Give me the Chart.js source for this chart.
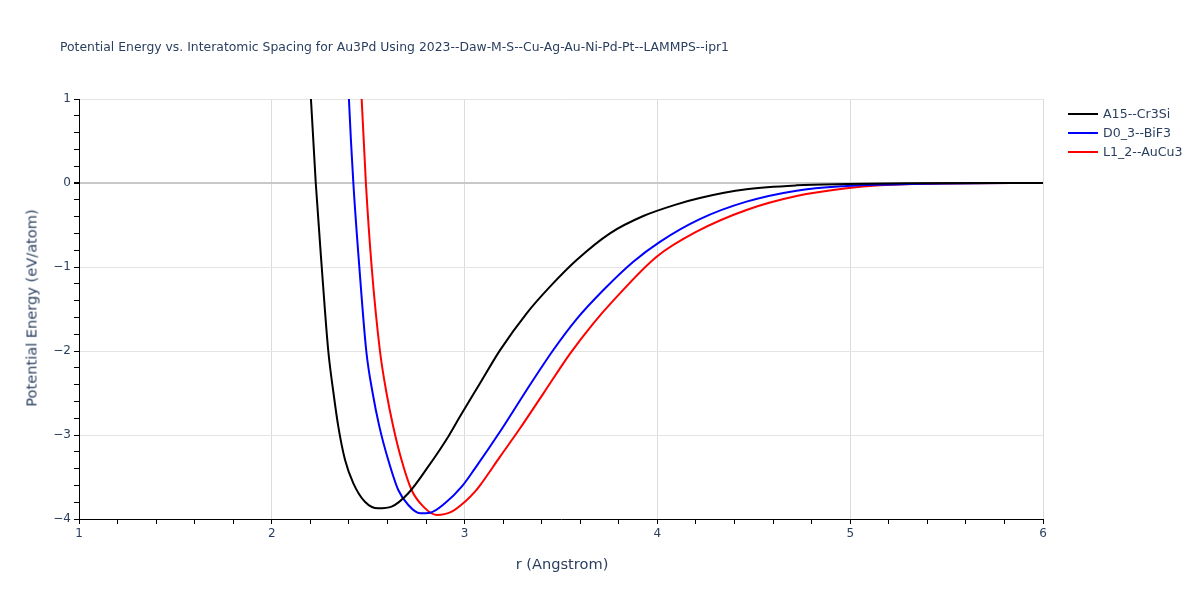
<!DOCTYPE html>
<html>
<head>
<meta charset="utf-8">
<script src="https://cdn.jsdelivr.net/npm/chart.js@4.4.1/dist/chart.umd.min.js"></script>
<style>
  body { margin: 0; background: #fff; }
  #wrap { position: relative; width: 1200px; height: 600px; font-family: "DejaVu Sans", Verdana, sans-serif; color: #2a3f5f; }
  #chart { position: absolute; left: 0; top: 0; }
  .title { position: absolute; left: 60px; top: 46px; font-size: 12.4px; white-space: nowrap; transform: translateY(-50%); }
  .ytitle { position: absolute; left: 31px; top: 308px; font-size: 14.6px; white-space: nowrap; transform: translate(-50%, -50%) rotate(-90deg); }
  .xtitle { position: absolute; left: 562px; top: 563px; font-size: 14.6px; white-space: nowrap; transform: translate(-50%, -50%); }
  .legend { position: absolute; left: 1068px; top: 104px; font-size: 12.6px; }
  .legend div { height: 19px; display: flex; align-items: center; white-space: nowrap; }
  .legend span.swatch { display: inline-block; width: 30px; height: 2px; margin-right: 5px; }
</style>
</head>
<body>
<div id="wrap">
  <canvas id="chart" width="1200" height="600"></canvas>
  <div class="title">Potential Energy vs. Interatomic Spacing for Au3Pd Using 2023--Daw-M-S--Cu-Ag-Au-Ni-Pd-Pt--LAMMPS--ipr1</div>
  <div class="ytitle">Potential Energy (eV/atom)</div>
  <div class="xtitle">r (Angstrom)</div>
  <div class="legend" id="legend"></div>
</div>
<script>
// series names and colours
const seriesNames = ["A15--Cr3Si", "D0_3--BiF3", "L1_2--AuCu3"];
const seriesColors = ["#000000", "#0000ff", "#ff0000"];

// A15--Cr3Si
const rA15 = [2.19, 2.203, 2.228, 2.259, 2.293, 2.32, 2.345, 2.38, 2.423, 2.483, 2.552, 2.621, 2.708, 2.811, 2.915, 2.976, 3.08, 3.184, 3.322, 3.443, 3.581, 3.754, 3.927, 4.1, 4.22, 4.462, 4.722, 4.981, 5.3, 6.0];
const eA15 = [1.6, 1.0, 0.0, -1.0, -2.0, -2.5, -2.901, -3.298, -3.575, -3.794, -3.873, -3.853, -3.694, -3.377, -3.02, -2.78, -2.385, -1.99, -1.551, -1.234, -0.917, -0.599, -0.393, -0.254, -0.178, -0.075, -0.028, -0.012, -0.003, 0.0];

// D0_3--BiF3
const rD03 = [2.39, 2.4, 2.423, 2.454, 2.49, 2.523, 2.558, 2.604, 2.656, 2.708, 2.769, 2.821, 2.898, 2.985, 3.054, 3.192, 3.322, 3.46, 3.581, 3.72, 3.875, 4.013, 4.22, 4.462, 4.722, 4.981, 5.155, 5.5, 6.0];
const eD03 = [1.6, 1.0, 0.0, -1.0, -2.0, -2.5, -2.9, -3.298, -3.655, -3.833, -3.932, -3.925, -3.813, -3.615, -3.397, -2.932, -2.464, -1.988, -1.62, -1.274, -0.937, -0.7, -0.43, -0.222, -0.091, -0.036, -0.02, -0.005, 0.0];

// L1_2--AuCu3
const rL12 = [2.455, 2.466, 2.488, 2.518, 2.561, 2.595, 2.63, 2.673, 2.725, 2.786, 2.855, 2.933, 3.002, 3.054, 3.08, 3.184, 3.284, 3.409, 3.548, 3.668, 3.771, 3.996, 4.203, 4.462, 4.722, 4.981, 5.155, 5.5, 6.0];
const eL12 = [1.6, 1.0, 0.0, -1.0, -2.0, -2.5, -2.901, -3.298, -3.655, -3.853, -3.952, -3.913, -3.794, -3.675, -3.6, -3.258, -2.932, -2.504, -2.028, -1.67, -1.4, -0.877, -0.579, -0.321, -0.155, -0.063, -0.028, -0.006, 0.0];

// axis ranges / ticks
const xRange = [1, 6];
const yRange = [-4, 1];
const minorStep = 0.2;

const seriesR = [rA15, rD03, rL12];
const seriesE = [eA15, eD03, eL12];

const tickFont = { family: '"DejaVu Sans", Verdana, sans-serif', size: 12 };
const tickColor = "#2a3f5f";

function isMajor(v) {
  return Math.abs(v - Math.round(v)) < 1e-6;
}

function fmt(v) {
  const n = Math.round(v);
  return n < 0 ? "\u2212" + Math.abs(n) : String(n);
}

const datasets = seriesNames.map((name, i) => ({
  label: name,
  data: seriesR[i].map((r, j) => ({ x: r, y: seriesE[i][j] })),
  borderColor: seriesColors[i],
  backgroundColor: seriesColors[i],
  borderWidth: 2,
  pointRadius: 0,
  cubicInterpolationMode: "monotone",
  fill: false
}));

// html legend
const legendEl = document.getElementById("legend");
seriesNames.forEach((name, i) => {
  const row = document.createElement("div");
  row.innerHTML = '<span class="swatch" style="background:' + seriesColors[i] + '"></span>' + name;
  legendEl.appendChild(row);
});

const ctx = document.getElementById("chart").getContext("2d");
new Chart(ctx, {
  type: "line",
  data: { datasets: datasets },
  options: {
    responsive: false,
    animation: false,
    layout: { padding: { top: 99, right: 157, left: 0, bottom: 0 } },
    plugins: {
      legend: { display: false },
      title: { display: false },
      tooltip: { enabled: false }
    },
    scales: {
      x: {
        type: "linear",
        min: xRange[0],
        max: xRange[1],
        afterFit: function(scale) { scale.height = 81; },
        border: { color: "#000", width: 1 },
        grid: {
          color: function(c) { return isMajor(c.tick.value) ? "#dcdcdc" : "rgba(0,0,0,0)"; },
          tickColor: "#000",
          tickLength: 5,
          drawTicks: true
        },
        ticks: {
          stepSize: minorStep,
          autoSkip: false,
          maxRotation: 0,
          padding: 3,
          color: tickColor,
          font: tickFont,
          callback: function(v) { return isMajor(v) ? fmt(v) : ""; }
        }
      },
      y: {
        type: "linear",
        min: yRange[0],
        max: yRange[1],
        afterFit: function(scale) { scale.width = 79; },
        border: { color: "#000", width: 1 },
        grid: {
          color: function(c) {
            if (!isMajor(c.tick.value)) return "rgba(0,0,0,0)";
            return Math.abs(c.tick.value) < 1e-6 ? "#c8c8c8" : "#e4e4e4";
          },
          lineWidth: function(c) { return Math.abs(c.tick.value) < 1e-6 ? 2 : 1; },
          tickColor: "#000",
          tickLength: 5,
          drawTicks: true
        },
        ticks: {
          stepSize: minorStep,
          autoSkip: false,
          padding: 3,
          color: tickColor,
          font: tickFont,
          callback: function(v) { return isMajor(v) ? fmt(v) : ""; }
        }
      }
    }
  }
});
</script>
</body>
</html>
